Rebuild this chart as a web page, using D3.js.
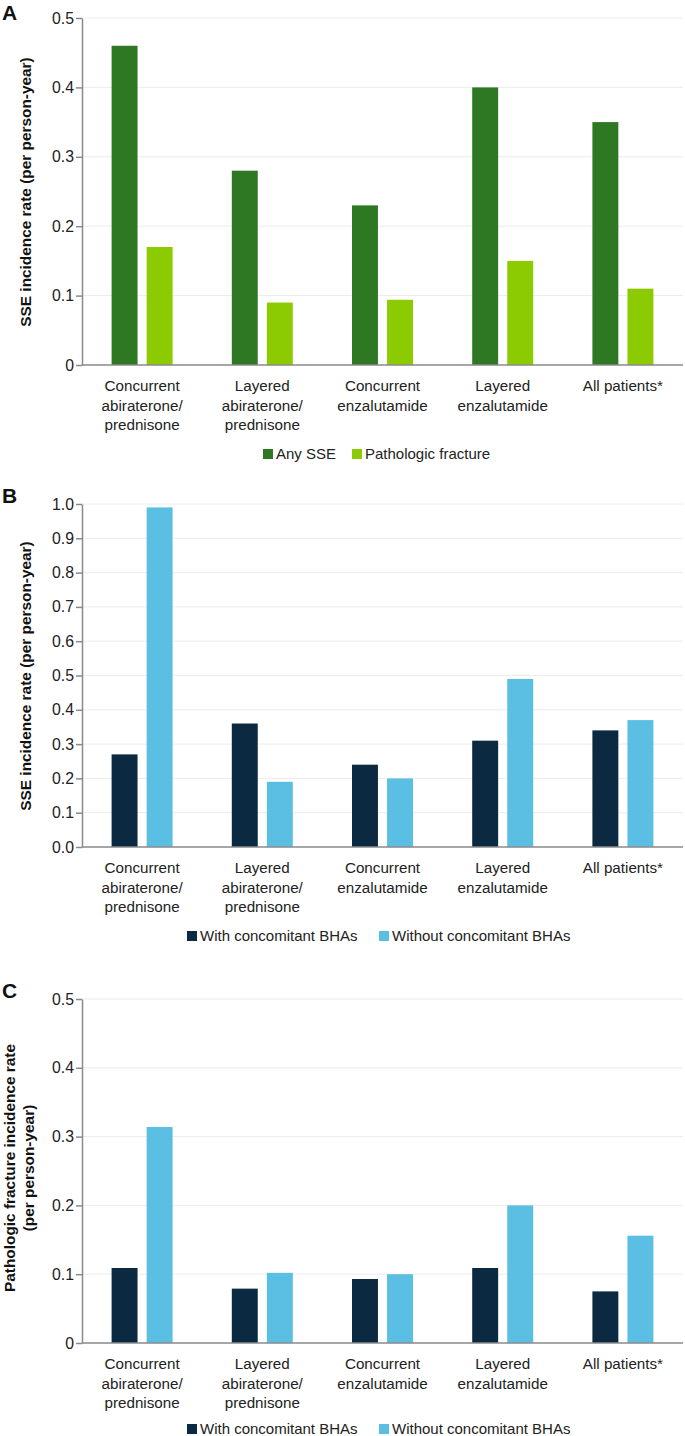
<!DOCTYPE html>
<html>
<head>
<meta charset="utf-8">
<script src="https://cdn.jsdelivr.net/npm/d3@7"></script>
<style>
  body { margin: 0; background: #fff; }
  svg { display: block; font-family: "Liberation Sans", Arial, Helvetica, sans-serif; }
</style>
</head>
<body>
<svg width="685" height="1436"></svg>
<script>
// categories shared by all three panels
var categories = [
  ["Concurrent", "abiraterone/", "prednisone"],
  ["Layered", "abiraterone/", "prednisone"],
  ["Concurrent", "enzalutamide"],
  ["Layered", "enzalutamide"],
  ["All patients*"]
];

// panel A
var seriesA = ["Any SSE", "Pathologic fracture"];
var anySSE = [0.46, 0.28, 0.23, 0.40, 0.35];
var pathFracture = [0.17, 0.09, 0.094, 0.15, 0.11];
var ticksA = [0, 0.1, 0.2, 0.3, 0.4, 0.5];

// panel B
var seriesBC = ["With concomitant BHAs", "Without concomitant BHAs"];
var sseWithBHA = [0.27, 0.36, 0.24, 0.31, 0.34];
var sseWithoutBHA = [0.99, 0.19, 0.20, 0.49, 0.37];
var ticksB = [0, 0.1, 0.2, 0.3, 0.4, 0.5, 0.6, 0.7, 0.8, 0.9, 1.0];

// panel C
var fracWithBHA = [0.109, 0.079, 0.093, 0.109, 0.075];
var fracWithoutBHA = [0.314, 0.102, 0.100, 0.200, 0.156];
var ticksC = [0, 0.1, 0.2, 0.3, 0.4, 0.5];

var svg = d3.select("svg");
var left = 82, right = 683;

function drawPanel(p) {
  var g = svg.append("g");

  var y = d3.scaleLinear().domain([0, p.max]).range([p.bottom, p.top]);
  var x0 = d3.scaleBand().domain(d3.range(categories.length)).range([left, right]);
  var x1 = d3.scaleBand().domain(p.series).range([-30.5, 30.5]).paddingInner(0.26);

  // gridlines
  g.selectAll(".grid").data(p.ticks.slice(1)).enter().append("line")
    .attr("x1", left).attr("x2", right)
    .attr("y1", function(d) { return y(d); })
    .attr("y2", function(d) { return y(d); })
    .attr("stroke", "#ececec").attr("stroke-width", 1);

  // bars
  p.values.forEach(function(vals, si) {
    g.selectAll(".bar" + si).data(vals).enter().append("rect")
      .attr("x", function(d, i) { return x0(i) + x0.bandwidth() / 2 + x1(p.series[si]); })
      .attr("width", x1.bandwidth())
      .attr("y", function(d) { return y(d); })
      .attr("height", function(d) { return y(0) - y(d); })
      .attr("fill", p.colors[si]);
  });

  // y axis
  var yAxis = d3.axisLeft(y).tickValues(p.ticks).tickSize(6).tickSizeOuter(0)
    .tickFormat(p.format);
  var ax = g.append("g").attr("transform", "translate(" + left + ",0)").call(yAxis);
  ax.select(".domain").attr("stroke", "#8a8a8a").attr("stroke-width", 1.5);
  ax.selectAll(".tick line").attr("stroke", "#8a8a8a").attr("stroke-width", 1.5);
  ax.selectAll(".tick text").attr("font-size", 15.8).attr("fill", "#222")
    .attr("font-family", "Liberation Sans, Arial, sans-serif").attr("x", -8);

  // baseline
  g.append("line").attr("x1", left).attr("x2", right)
    .attr("y1", y(0)).attr("y2", y(0))
    .attr("stroke", "#8a8a8a").attr("stroke-width", 1.5);

  // category labels
  categories.forEach(function(lines, i) {
    var t = g.append("text")
      .attr("text-anchor", "middle")
      .attr("font-size", 15.2).attr("fill", "#222")
      .attr("x", x0(i) + x0.bandwidth() / 2)
      .attr("y", y(0) + 26);
    lines.forEach(function(l, j) {
      t.append("tspan").attr("x", x0(i) + x0.bandwidth() / 2)
        .attr("dy", j === 0 ? 0 : 19.5).text(l);
    });
  });

  // y title
  var ty = g.append("text")
    .attr("transform", "translate(" + p.titleX + "," + p.titleY + ") rotate(-90)")
    .attr("text-anchor", "middle").attr("font-size", 15.4).attr("font-weight", "bold")
    .attr("fill", "#111");
  p.title.forEach(function(l, j) {
    ty.append("tspan").attr("x", 0).attr("dy", j === 0 ? 0 : 18.5).text(l);
  });

  // panel letter
  g.append("text").attr("x", 2).attr("y", p.letterY)
    .attr("font-size", 21).attr("font-weight", "bold").attr("fill", "#111")
    .text(p.letter);

  // legend
  var lg = g.append("g");
  p.series.forEach(function(s, si) {
    lg.append("rect").attr("x", p.legendX[si]).attr("y", p.legendY - 10)
      .attr("width", 10).attr("height", 10).attr("fill", p.colors[si]);
    lg.append("text").attr("x", p.legendX[si] + 13).attr("y", p.legendY)
      .attr("font-size", 15).attr("fill", "#222").text(s);
  });
}

drawPanel({
  letter: "A", letterY: 20,
  top: 18, bottom: 365, max: 0.5, ticks: ticksA,
  format: function(d) { return d === 0 ? "0" : d3.format(".1f")(d); },
  series: seriesA, values: [anySSE, pathFracture],
  colors: ["#2e7823", "#8ccb02"],
  title: ["SSE incidence rate (per person-year)"], titleX: 31, titleY: 192,
  legendX: [263, 352], legendY: 459
});

drawPanel({
  letter: "B", letterY: 503,
  top: 504, bottom: 847, max: 1.0, ticks: ticksB,
  format: d3.format(".1f"),
  series: seriesBC, values: [sseWithBHA, sseWithoutBHA],
  colors: ["#0b2940", "#5bbee3"],
  title: ["SSE incidence rate (per person-year)"], titleX: 31, titleY: 676,
  legendX: [187, 379], legendY: 941
});

drawPanel({
  letter: "C", letterY: 998,
  top: 999, bottom: 1343, max: 0.5, ticks: ticksC,
  format: function(d) { return d === 0 ? "0" : d3.format(".1f")(d); },
  series: seriesBC, values: [fracWithBHA, fracWithoutBHA],
  colors: ["#0b2940", "#5bbee3"],
  title: ["Pathologic fracture incidence rate", "(per person-year)"], titleX: 15, titleY: 1168,
  legendX: [187, 379], legendY: 1434
});
</script>
</body>
</html>
